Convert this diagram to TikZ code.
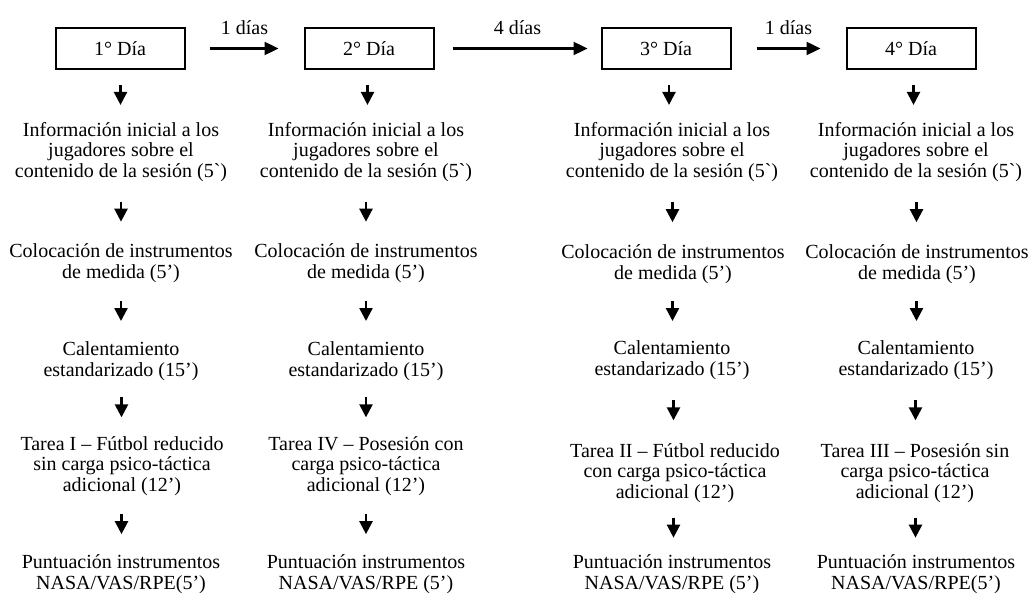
\documentclass[tikz,border=0pt]{standalone}
\usepackage{fontspec}
\newfontfamily\tnr{Liberation Serif}
\usetikzlibrary{arrows.meta,calc}

\tikzset{
  dia/.style={draw, line width=1pt, minimum width=64.5pt, minimum height=20.5pt, inner sep=0pt},
  texto/.style={align=center, inner sep=0pt},
  lado/.style={line width=1.2pt, -{Triangle[length=7pt,width=6.5pt]}},
  baja/.style={line width=1.2pt, -{Triangle[length=6.5pt,width=6.5pt]},
    to path={($(\tikztostart.south)!0.5!(\tikztotarget.north)$) ++(0,-11) -- ++(0,20)}}
}

\begin{document}
\begin{tikzpicture}[x=0.5pt,y=-0.5pt,font=\tnr\fontsize{10}{10.3}\selectfont]
            \useasboundingbox (0,0) rectangle (1029,593);

            \node[dia] (d1) at (120,48.5) {1° Día};
            \node[dia] (d2) at (369,48.5) {2° Día};
            \node[dia] (d3) at (666,48.5) {3° Día};
            \node[dia] (d4) at (911,48.5) {4° Día};

            \draw[lado, shorten <=12pt, shorten >=12.5pt] (d1) -- node[above=2.75pt] {1 días} (d2);
            \draw[lado, shorten <=9pt, shorten >=6.5pt] (d2) -- node[above=2.75pt] {4 días} (d3);
            \draw[lado, shorten <=12.5pt, shorten >=12.5pt] (d3) -- node[above=2.75pt] {1 días} (d4);

            \node[texto] (inf1) at (121,152) {Información inicial a los\\jugadores sobre el\\contenido de la sesión (5`)};
            \node[texto] (inf2) at (366,152) {Información inicial a los\\jugadores sobre el\\contenido de la sesión (5`)};
            \node[texto] (inf3) at (672,152) {Información inicial a los\\jugadores sobre el\\contenido de la sesión (5`)};
            \node[texto] (inf4) at (916,152) {Información inicial a los\\jugadores sobre el\\contenido de la sesión (5`)};

            \node[texto] (col1) at (121,263) {Colocación de instrumentos\\de medida (5’)};
            \node[texto] (col2) at (366,263) {Colocación de instrumentos\\de medida (5’)};
            \node[texto] (col3) at (673,264) {Colocación de instrumentos\\de medida (5’)};
            \node[texto] (col4) at (917,264) {Colocación de instrumentos\\de medida (5’)};

            \node[texto] (cal1) at (121,361) {Calentamiento\\estandarizado (15’)};
            \node[texto] (cal2) at (366,361) {Calentamiento\\estandarizado (15’)};
            \node[texto] (cal3) at (672,360) {Calentamiento\\estandarizado (15’)};
            \node[texto] (cal4) at (916,360) {Calentamiento\\estandarizado (15’)};

            \node[texto] (tar1) at (122,466) {Tarea I – Fútbol reducido\\sin carga psico-táctica\\adicional (12’)};
            \node[texto] (tar2) at (366,466) {Tarea IV – Posesión con\\carga psico-táctica\\adicional (12’)};
            \node[texto] (tar3) at (675,473) {Tarea II – Fútbol reducido\\con carga psico-táctica\\adicional (12’)};
            \node[texto] (tar4) at (915,473) {Tarea III – Posesión sin\\carga psico-táctica\\adicional (12’)};

            \node[texto] (pun1) at (121,574) {Puntuación instrumentos\\NASA/VAS/RPE(5’)};
            \node[texto] (pun2) at (366,574) {Puntuación instrumentos\\NASA/VAS/RPE (5’)};
            \node[texto] (pun3) at (672,574) {Puntuación instrumentos\\NASA/VAS/RPE (5’)};
            \node[texto] (pun4) at (916,574) {Puntuación instrumentos\\NASA/VAS/RPE(5’)};

            \draw[baja] (d1) to (inf1);
            \draw[baja] (inf1) to (col1);
            \draw[baja] (col1) to (cal1);
            \draw[baja] (cal1) to (tar1);
            \draw[baja] (tar1) to (pun1);

            \draw[baja] (d2) to (inf2);
            \draw[baja] (inf2) to (col2);
            \draw[baja] (col2) to (cal2);
            \draw[baja] (cal2) to (tar2);
            \draw[baja] (tar2) to (pun2);

            \draw[baja] (d3) to (inf3);
            \draw[baja] (inf3) to (col3);
            \draw[baja] (col3) to (cal3);
            \draw[baja] (cal3) to (tar3);
            \draw[baja] (tar3) to (pun3);

            \draw[baja] (d4) to (inf4);
            \draw[baja] (inf4) to (col4);
            \draw[baja] (col4) to (cal4);
            \draw[baja] (cal4) to (tar4);
            \draw[baja] (tar4) to (pun4);
\end{tikzpicture}
\end{document}
